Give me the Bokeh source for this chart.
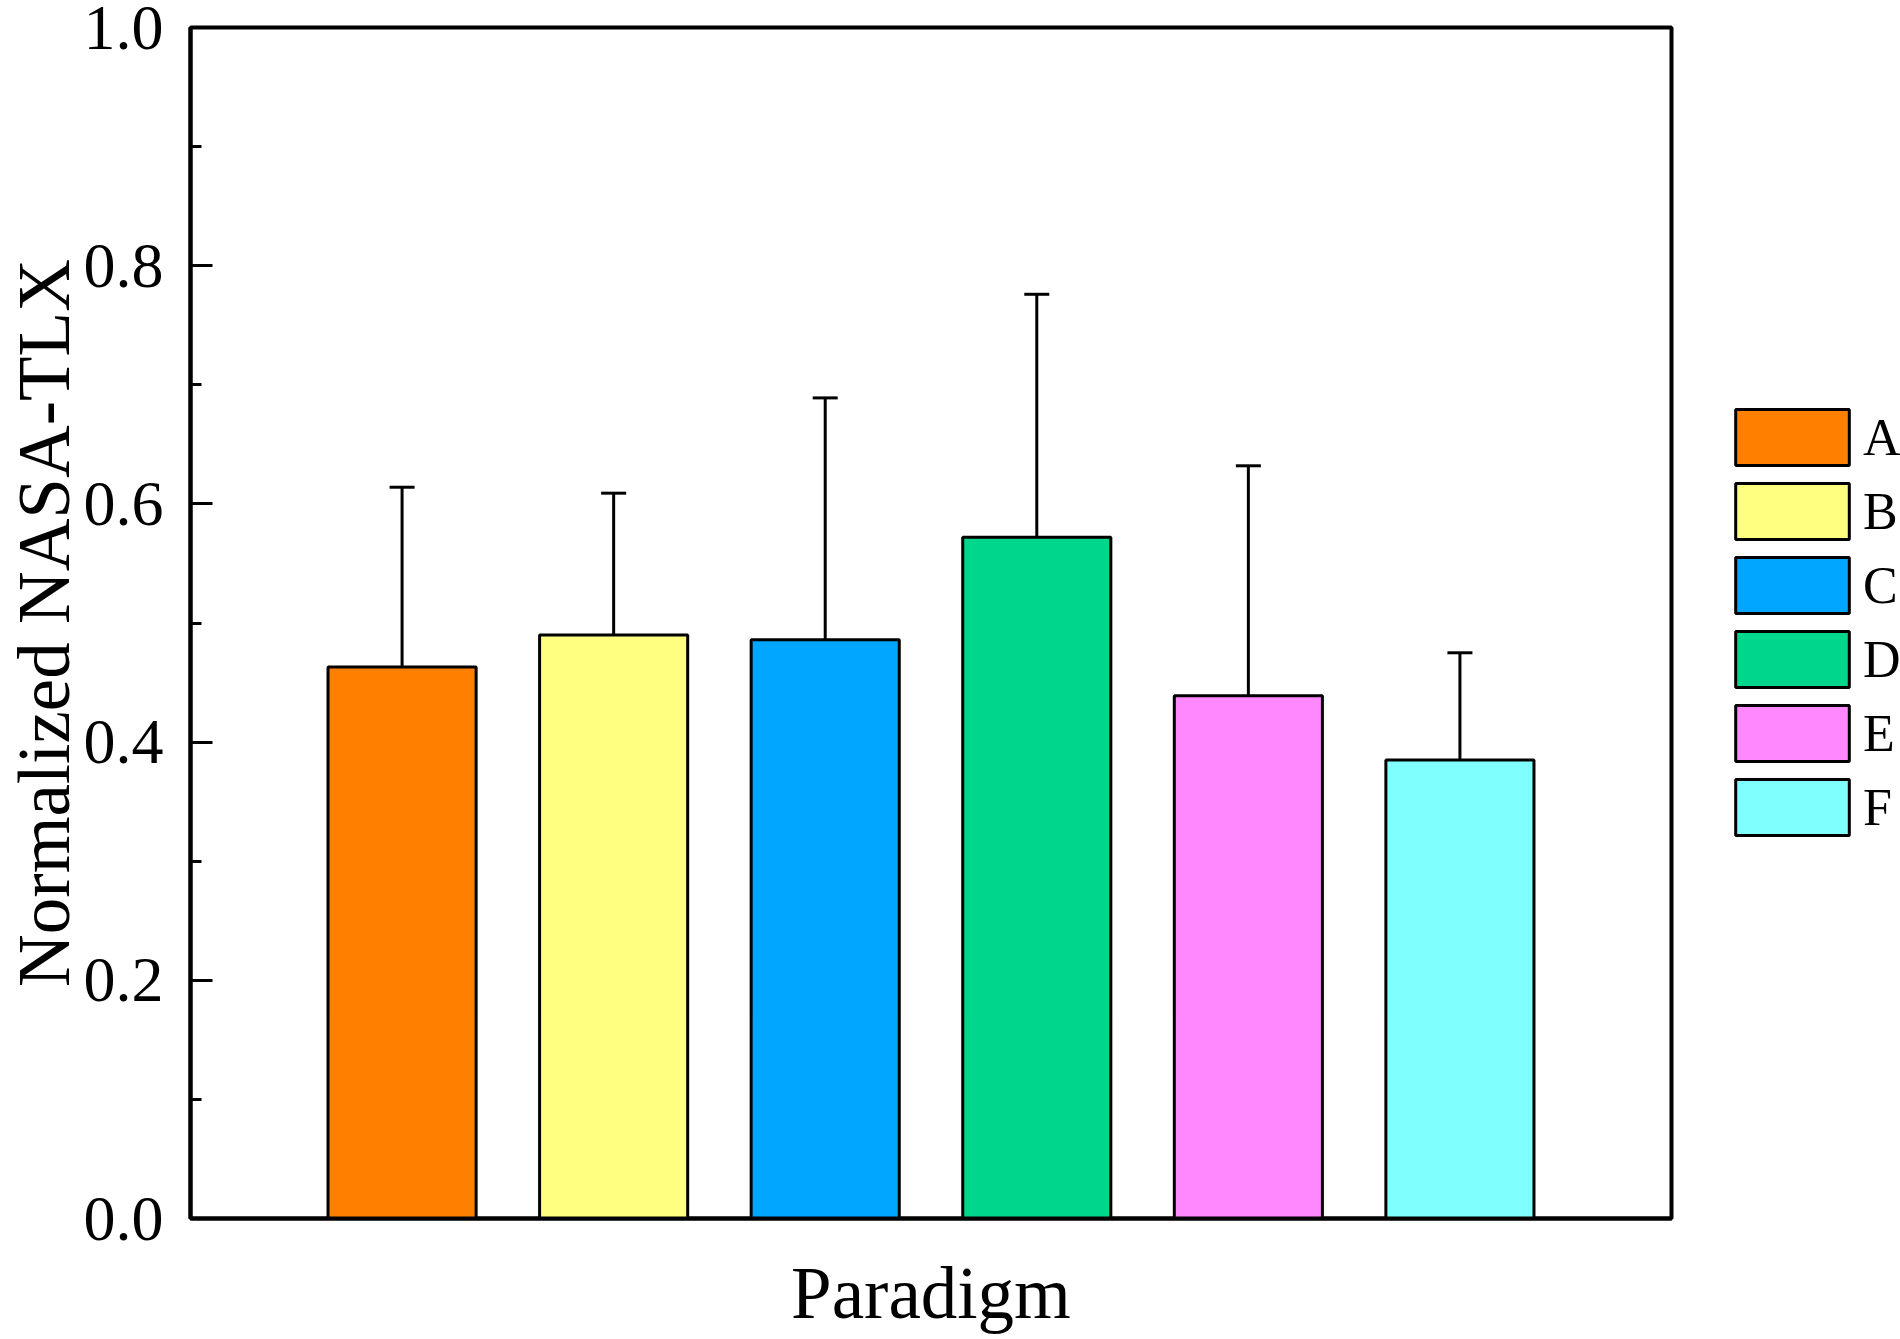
from bokeh.plotting import figure
from bokeh.layouts import row
from bokeh.models import (ColumnDataSource, FactorRange, Range1d, FixedTicker,
                          Whisker, TeeHead, Legend, LegendItem)
from bokeh.embed import file_html
from bokeh.resources import INLINE

# ---- data ----
paradigms = ["A", "B", "C", "D", "E", "F"]
mean_tlx = [0.463, 0.490, 0.486, 0.572, 0.439, 0.385]
sd_tlx = [0.151, 0.119, 0.203, 0.204, 0.193, 0.090]
bar_colors = ["#FF8000", "#FFFF80", "#00A6FF", "#00D68C", "#FF88FF", "#80FFFF"]
y_ticks = [0.0, 0.2, 0.4, 0.6, 0.8, 1.0]
y_tick_labels = ["0.0", "0.2", "0.4", "0.6", "0.8", "1.0"]
y_minor_ticks = [0.1, 0.3, 0.5, 0.7, 0.9]

FONT = "Liberation Serif"

upper = [m + s for m, s in zip(mean_tlx, sd_tlx)]
source = ColumnDataSource(dict(x=paradigms, top=mean_tlx, upper=upper, color=bar_colors))

p = figure(width=1675, height=1339, output_backend="svg", toolbar_location=None,
           x_range=FactorRange(factors=paradigms, range_padding=1/6, range_padding_units="percent"),
           y_range=Range1d(0, 1),
           min_border_left=190, min_border_right=4, min_border_top=27, min_border_bottom=121)

r = p.vbar(x="x", top="top", width=0.7, bottom=0, source=source,
           fill_color="color", line_color="black", line_width=3)

wh = Whisker(base="x", lower="top", upper="upper", source=source, dimension="height",
             line_color="black", line_width=3,
             upper_head=TeeHead(size=25, line_width=3, line_color="black"), lower_head=None)
p.add_layout(wh)

p.xgrid.visible = False
p.ygrid.visible = False
p.outline_line_color = "black"
p.outline_line_width = 4
p.background_fill_color = "white"
p.border_fill_color = "white"

# y axis
ya = p.yaxis[0]
ya.ticker = FixedTicker(ticks=y_ticks, minor_ticks=y_minor_ticks)
ya.major_label_overrides = {t: l for t, l in zip(y_ticks, y_tick_labels)}
ya.axis_line_width = 4
ya.major_tick_line_width = 3
ya.minor_tick_line_width = 3
ya.major_tick_in = 22
ya.major_tick_out = 0
ya.minor_tick_in = 11
ya.minor_tick_out = 0
ya.major_label_text_font = FONT
ya.major_label_text_font_size = "64px"
ya.major_label_text_color = "black"
ya.major_label_standoff = 27
ya.axis_label = "Normalized NASA-TLX"
ya.axis_label_text_font = FONT
ya.axis_label_text_font_size = "73px"
ya.axis_label_text_font_style = "normal"
ya.axis_label_text_color = "black"
ya.axis_label_standoff = -4

# x axis
xa = p.xaxis[0]
xa.axis_line_width = 4
xa.major_tick_line_color = None
xa.minor_tick_line_color = None
xa.major_tick_in = 0
xa.major_tick_out = 0
xa.major_label_text_font_size = "0px"
xa.major_label_text_color = None
xa.major_label_standoff = 0
xa.axis_label = "Paradigm"
xa.axis_label_text_font = FONT
xa.axis_label_text_font_size = "73px"
xa.axis_label_text_font_style = "normal"
xa.axis_label_text_color = "black"
xa.axis_label_standoff = 34

# ---- legend panel (a second figure to the right) ----
q = figure(width=225, height=1339, output_backend="svg", toolbar_location=None,
           x_range=FactorRange(factors=paradigms), y_range=Range1d(100, 101),
           x_axis_type=None, y_axis_type=None,
           min_border_left=0, min_border_right=0, min_border_top=0, min_border_bottom=0)
q.outline_line_color = None
q.xgrid.visible = False
q.ygrid.visible = False
q.background_fill_color = "white"
q.border_fill_color = "white"
rq = q.vbar(x="x", top="top", width=0.7, bottom=0, source=source,
            fill_color="color", line_color="black", line_width=3)
rq.visible = False

items = [LegendItem(label=c, renderers=[rq], index=i) for i, c in enumerate(paradigms)]
legend = Legend(items=items, location=(46, 376), orientation="vertical",
                glyph_width=142, glyph_height=70, label_height=70, spacing=4,
                padding=10, margin=0, border_line_color=None, background_fill_alpha=0,
                inactive_fill_alpha=0,
                label_text_font=FONT, label_text_font_size="52px", label_standoff=0,
                label_text_color="black")
q.add_layout(legend)

layout = row(p, q, spacing=0)
open("out.html", "w").write(file_html(layout, INLINE))
